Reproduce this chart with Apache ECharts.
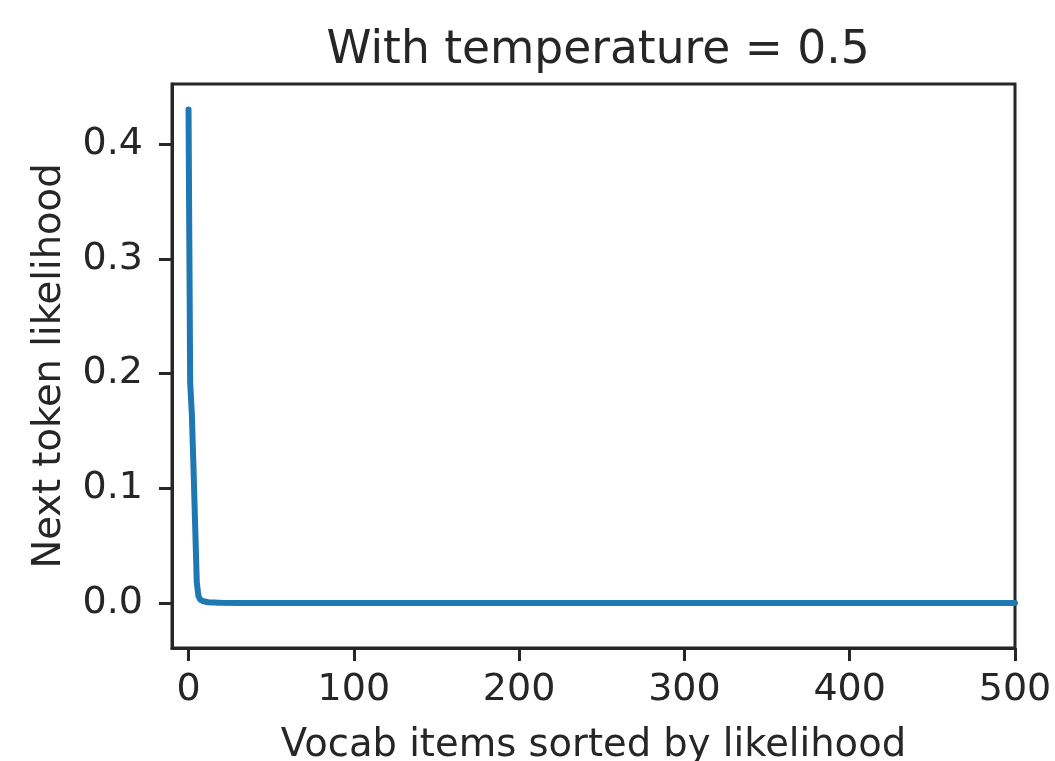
<!DOCTYPE html>
<html>
<head>
<meta charset="utf-8">
<script src="https://cdn.jsdelivr.net/npm/echarts@6/dist/echarts.min.js"></script>
<style>
html,body{margin:0;padding:0;background:#fff;}
#chart{width:1055px;height:761px;}
</style>
</head>
<body>
<div id="chart"></div>
<script>
// Data
const titleText = "With temperature = 0.5";
const xName = "Vocab items sorted by likelihood";
const yName = "Next token likelihood";
const rankIndex = [0, 1, 2, 3, 4, 5, 6, 7, 8, 9, 10, 12, 14, 16, 18, 20, 30, 500];
const likelihood = [0.430, 0.192, 0.165, 0.118, 0.068, 0.018, 0.006, 0.003, 0.002, 0.0015, 0.001, 0.0007, 0.0005, 0.0004, 0.0003, 0.0002, 0.0001, 0.0];
const xTicks = [0, 100, 200, 300, 400, 500];
const yTicks = [0.0, 0.1, 0.2, 0.3, 0.4];

const seriesData = rankIndex.map((x, i) => [x, likelihood[i]]);
const font = 'DejaVu Sans';
const ink = '#262626';

const chart = echarts.init(document.getElementById('chart'), null, {renderer: 'canvas'});
chart.setOption({
  backgroundColor: '#ffffff',
  animation: false,
  title: {
    text: titleText,
    left: 593,
    textAlign: 'center',
    top: 23,
    textStyle: {fontFamily: font, fontSize: 45.5, fontWeight: 'normal', color: ink}
  },
  grid: {
    left: 172, right: 40, top: 84, bottom: 113,
    outerBoundsMode: 'none',
    containLabel: false,
    show: true, borderColor: ink, borderWidth: 3, backgroundColor: '#fff'
  },
  xAxis: {
    type: 'value',
    min: -10, max: 500,
    name: xName,
    nameLocation: 'middle',
    nameGap: 78,
    nameTextStyle: {fontFamily: font, fontSize: 38.5, color: ink},
    axisLine: {show: true, onZero: false, lineStyle: {color: ink, width: 3}},
    axisTick: {show: true, length: 13, customValues: xTicks, lineStyle: {color: ink, width: 3}},
    axisLabel: {customValues: xTicks, margin: 23, fontFamily: font, fontSize: 38, color: ink,
      formatter: v => String(v)},
    splitLine: {show: false}
  },
  yAxis: {
    type: 'value',
    min: -0.0392, max: 0.4523,
    name: yName,
    nameLocation: 'middle',
    nameGap: 103,
    nameRotate: 90,
    nameTextStyle: {fontFamily: font, fontSize: 38.5, color: ink},
    axisLine: {show: true, onZero: false, lineStyle: {color: ink, width: 3}},
    axisTick: {show: true, length: 13, customValues: yTicks, lineStyle: {color: ink, width: 3}},
    axisLabel: {customValues: yTicks, margin: 29, fontFamily: font, fontSize: 38, color: ink,
      formatter: v => v.toFixed(1)},
    splitLine: {show: false}
  },
  series: [{
    type: 'line',
    data: seriesData,
    showSymbol: false,
    symbol: 'none',
    clip: true,
    lineStyle: {color: '#1f77b4', width: 6, cap: 'round', join: 'round'}
  }]
});
</script>
</body>
</html>
